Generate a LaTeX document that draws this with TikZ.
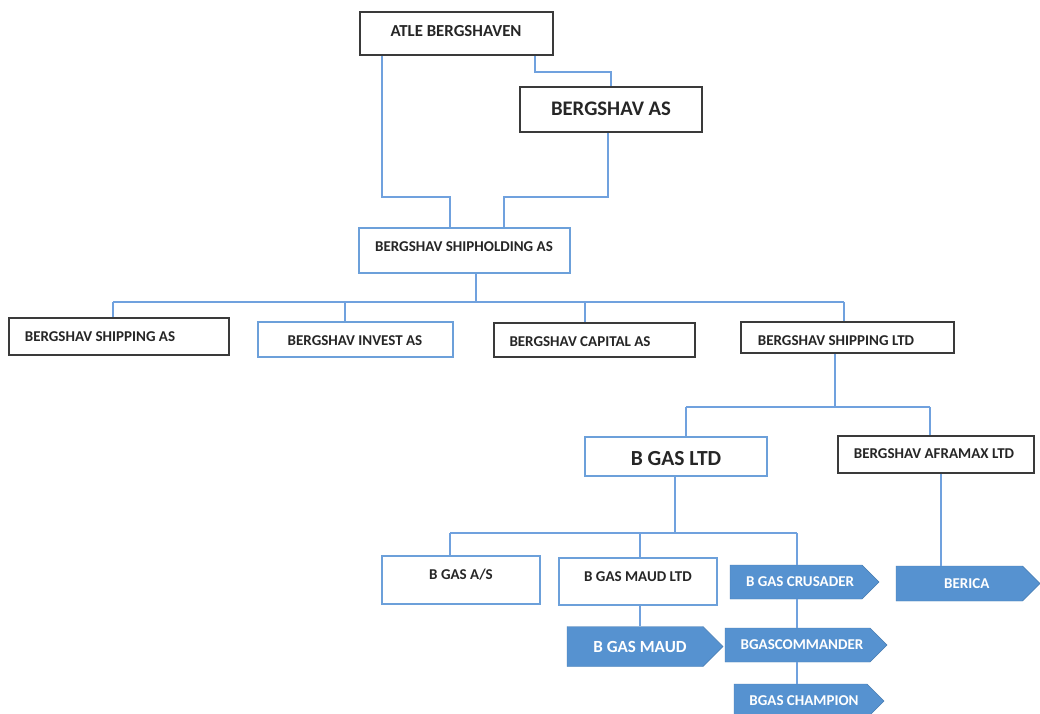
\documentclass[tikz,border=0pt]{standalone}
\usepackage{fontspec}
\setmainfont{Carlito}
\usetikzlibrary{shapes.symbols}
\definecolor{lnblue}{RGB}{112,161,222}
\definecolor{bxblue}{RGB}{108,160,218}
\definecolor{darkb}{RGB}{58,58,58}
\definecolor{fillblue}{RGB}{86,146,208}
\definecolor{txtc}{RGB}{38,38,38}
\newcommand{\fs}[1]{\fontsize{#1}{#1}\selectfont\bfseries}
\begin{document}
\begin{tikzpicture}[x=1pt,y=-1pt,
  dkbox/.style={draw=darkb, line width=1.7pt, fill=white, inner sep=0pt},
  blbox/.style={draw=bxblue, line width=1.4pt, fill=white, inner sep=0pt},
  lbl/.style={text=txtc, inner sep=0pt, font=\fs{15}},
  conn/.style={draw=lnblue, line width=1.4pt},
  sig/.style={signal, signal to=east, signal pointer angle=90, fill=fillblue,
    draw=fillblue!85!black, line width=0.4pt, text=white, inner sep=0pt, font=\fs{15}}]
\useasboundingbox (0,0) rectangle (1040,713);
\fill[white] (0,0) rectangle (1040,713);

% boxes
\node[dkbox, minimum width=193, minimum height=43] (atle) at (456.5,33.5) {};
\node[lbl, font=\fs{16.8}] (atlet) at (456,31) {ATLE BERGSHAVEN};
\node[dkbox, minimum width=182, minimum height=45] (bas) at (611,109.5) {};
\node[lbl, font=\fs{20.7}] (bast) at (611,109) {BERGSHAV AS};
\node[blbox, minimum width=211, minimum height=45] (shold) at (464.5,250.5) {};
\node[lbl] (sholdt) at (464,247) {BERGSHAV SHIPHOLDING AS};

\node[dkbox, minimum width=220, minimum height=37] (sas) at (119,336.5) {};
\node[lbl] (sast) at (100,337) {BERGSHAV SHIPPING AS};
\node[blbox, minimum width=195, minimum height=35] (inv) at (355.5,339.5) {};
\node[lbl] (invt) at (355,341) {BERGSHAV INVEST AS};
\node[dkbox, minimum width=201, minimum height=34] (cap) at (594.5,340) {};
\node[lbl] (capt) at (580,342) {BERGSHAV CAPITAL AS};
\node[dkbox, minimum width=213, minimum height=31] (sltd) at (847.5,337.5) {};
\node[lbl] (sltdt) at (836,341) {BERGSHAV SHIPPING LTD};

\node[blbox, minimum width=182, minimum height=39] (bgas) at (676,456.5) {};
\node[lbl, font=\fs{21.5}] (bgast) at (676,459) {B GAS LTD};
\node[dkbox, minimum width=196, minimum height=37] (afr) at (936,454.5) {};
\node[lbl] (afrt) at (934,454) {BERGSHAV AFRAMAX LTD};

\node[blbox, minimum width=158, minimum height=48] (bas2) at (461,580) {};
\node[lbl] (bas2t) at (461,575) {B GAS A/S};
\node[blbox, minimum width=158, minimum height=47] (mltd) at (638,581.5) {};
\node[lbl] (mltdt) at (638,577) {B GAS MAUD LTD};

\node[sig, minimum width=149, minimum height=34] (crus) at (796,582) {\hspace*{8pt}B GAS CRUSADER};
\node[sig, minimum width=144, minimum height=35] (beri) at (959.25,583.5) {\hspace*{15pt}BERICA};
\node[sig, minimum width=156, minimum height=40, font=\fs{17}] (maud) at (635,646.5) {\hspace*{10pt}B GAS MAUD};
\node[sig, minimum width=162, minimum height=34] (cmd) at (797.5,645) {\hspace*{9pt}BGASCOMMANDER};
\node[sig, minimum width=150, minimum height=34] (cha) at (800.5,701) {\hspace*{7pt}BGAS CHAMPION};

% connectors
\draw[conn] (atle.south -| 535,0) -- (535,72) -- (611,72) -- (bas.north -| 611,0);
\draw[conn] (atle.south -| 382,0) -- (382,197) -- (450,197) -- (shold.north -| 450,0);
\draw[conn] (bas.south -| 608,0) -- (608,197) -- (504,197) -- (shold.north -| 504,0);

\coordinate (bus1) at (476,302);
\draw[conn] (shold.south -| bus1) -- (bus1);
\draw[conn] (113,302) -- (844,302);
\draw[conn] (113,302) -- (sas.north -| 113,0);
\draw[conn] (345,302) -- (inv.north -| 345,0);
\draw[conn] (585,302) -- (cap.north -| 585,0);
\draw[conn] (844,302) -- (sltd.north -| 844,0);

\coordinate (bus2) at (835,407);
\draw[conn] (sltd.south -| bus2) -- (bus2);
\draw[conn] (686,407) -- (930,407);
\draw[conn] (686,407) -- (bgas.north -| 686,0);
\draw[conn] (930,407) -- (afr.north -| 930,0);

\coordinate (bus3) at (675,533);
\draw[conn] (bgas.south -| bus3) -- (bus3);
\draw[conn] (450,533) -- (797,533);
\draw[conn] (450,533) -- (bas2.north -| 450,0);
\draw[conn] (640,533) -- (mltd.north -| 640,0);
\draw[conn] (797,533) -- (crus.north -| 797,0);

\draw[conn] (afr.south -| 941,0) -- (beri.north -| 941,0);
\draw[conn] (mltd.south -| 640,0) -- (maud.north -| 640,0);
\draw[conn] (crus.south -| 797,0) -- (cmd.north -| 797,0);
\draw[conn] (cmd.south -| 797,0) -- (cha.north -| 797,0);
\end{tikzpicture}
\end{document}
